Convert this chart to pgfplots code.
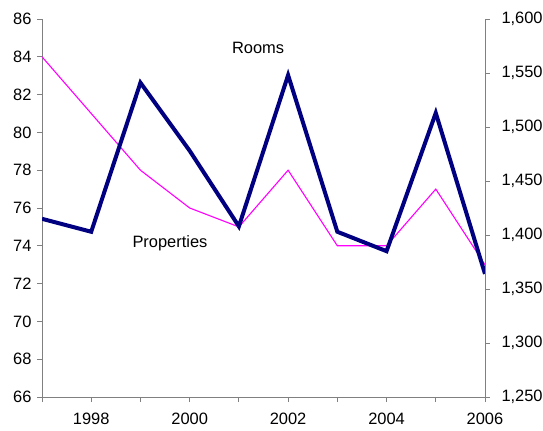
\documentclass[border=0pt]{standalone}
\usepackage{fontspec}
\setmainfont{Liberation Sans}
\usepackage{pgfplots}
\pgfplotsset{compat=1.18}
\definecolor{navy}{HTML}{000080}
\definecolor{mag}{HTML}{FF00FF}
\definecolor{axgray}{HTML}{808080}
\begin{document}
\begin{tikzpicture}
\pgfplotsset{
  common/.style={
    scale only axis, width=443bp, height=378bp, at={(0,0)}, anchor=south west,
    xmin=1997, xmax=2006,
    tick style={axgray, line width=0.9bp},
    axis line style={axgray, line width=0.9bp},
    tick align=outside, major tick length=5bp,
    /pgf/number format/assume math mode=true,
    tick label style={font=\fontsize{16.5}{19}\selectfont},
  }
}
\begin{axis}[common,
  axis y line*=left, axis x line*=bottom,
  ymin=66, ymax=86, ytick={66,68,...,86},
  xtick={1997,1998,...,2006},
  xticklabels={,1998,,2000,,2002,,2004,,2006},
  xticklabel style={/pgf/number format/1000 sep={}, yshift=-8bp},
  yticklabel style={xshift=-2bp},
]
\addplot[mag, line width=1.1bp, mark=none] coordinates {
(1997,84)(1998,81)(1999,78)(2000,76)(2001,75)(2002,78)(2003,74)(2004,74)(2005,77)(2006,73)};
\node[font=\fontsize{16.5}{19}\selectfont] at (axis cs:2001.39,84.47) {Rooms};
\node[font=\fontsize{16.5}{19}\selectfont] at (axis cs:1999.6,74.15) {Properties};
\end{axis}
\begin{axis}[common,
  axis y line*=right, axis x line=none,
  ymin=1250, ymax=1600, ytick={1250,1300,...,1600},
  scaled y ticks=false,
  yticklabel style={/pgf/number format/.cd, 1000 sep={,}, /tikz/xshift=8bp},
]
\addplot[navy, line width=4bp, mark=none] coordinates {
(1997,1415)(1998,1403)(1999,1541)(2000,1478)(2001,1408)(2002,1548)(2003,1403)(2004,1385)(2005,1513)(2006,1364)};
\end{axis}
\pgfresetboundingbox
\path (-42bp,-34bp) rectangle (501bp,397bp);
\end{tikzpicture}
\end{document}
